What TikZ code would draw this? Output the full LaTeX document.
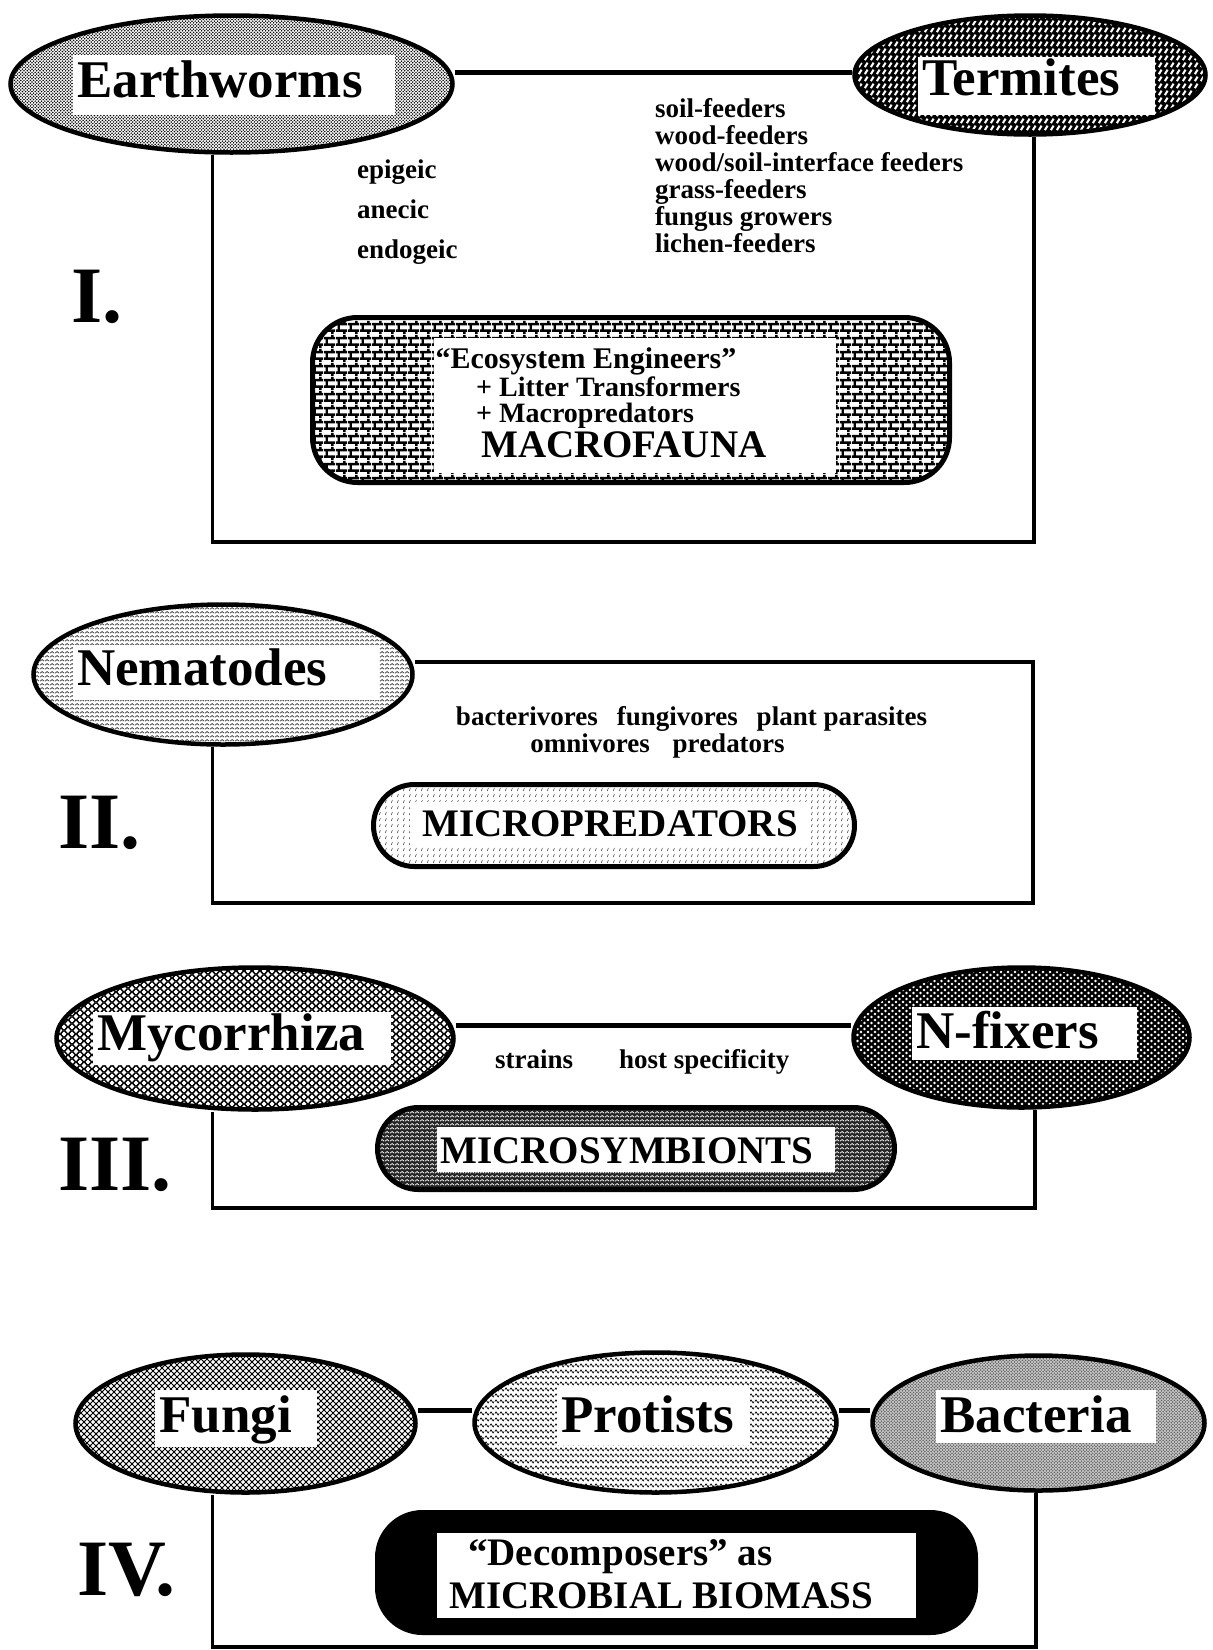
\documentclass[tikz,border=0pt]{standalone}
\usepackage{fontspec}
\setmainfont{Liberation Serif}
\usetikzlibrary{shapes.geometric,patterns}

\pgfdeclarepatternformonly{stip}{\pgfqpoint{-1pt}{-1pt}}{\pgfqpoint{2.6pt}{2.6pt}}{\pgfqpoint{3.2pt}{3.2pt}}{%
  \pgfpathcircle{\pgfpointorigin}{0.85pt}\pgfpathcircle{\pgfqpoint{1.6pt}{1.6pt}}{0.85pt}\pgfusepath{fill}}
\pgfdeclarepatternformonly{tslash}{\pgfqpoint{0pt}{0pt}}{\pgfqpoint{6pt}{7pt}}{\pgfqpoint{6pt}{7pt}}{%
  \pgfsetlinewidth{2.4pt}%
  \pgfpathmoveto{\pgfqpoint{1pt}{1pt}}\pgfpathlineto{\pgfqpoint{4.2pt}{6pt}}\pgfusepath{stroke}}
\pgfdeclarepatternformonly{tbrick}{\pgfqpoint{0pt}{0pt}}{\pgfqpoint{12pt}{14pt}}{\pgfqpoint{12pt}{14pt}}{%
  \pgfsetlinewidth{2.6pt}%
  \pgfpathmoveto{\pgfqpoint{0pt}{3.5pt}}\pgfpathlineto{\pgfqpoint{12pt}{3.5pt}}%
  \pgfpathmoveto{\pgfqpoint{0pt}{10.5pt}}\pgfpathlineto{\pgfqpoint{12pt}{10.5pt}}%
  \pgfpathmoveto{\pgfqpoint{3pt}{3.5pt}}\pgfpathlineto{\pgfqpoint{3pt}{10.5pt}}%
  \pgfpathmoveto{\pgfqpoint{9pt}{10.5pt}}\pgfpathlineto{\pgfqpoint{9pt}{14pt}}%
  \pgfpathmoveto{\pgfqpoint{9pt}{0pt}}\pgfpathlineto{\pgfqpoint{9pt}{3.5pt}}%
  \pgfusepath{stroke}}
\pgfdeclarepatternformonly{nwave}{\pgfqpoint{0pt}{0pt}}{\pgfqpoint{5pt}{4pt}}{\pgfqpoint{5pt}{4pt}}{%
  \pgfsetlinewidth{0.9pt}%
  \pgfpathmoveto{\pgfqpoint{0pt}{1pt}}\pgfpathlineto{\pgfqpoint{2.5pt}{3pt}}\pgfpathlineto{\pgfqpoint{5pt}{1pt}}%
  \pgfusepath{stroke}}
\pgfdeclarepatternformonly{ticks}{\pgfqpoint{0pt}{0pt}}{\pgfqpoint{6pt}{6pt}}{\pgfqpoint{6pt}{6pt}}{%
  \pgfsetlinewidth{0.6pt}%
  \pgfpathmoveto{\pgfqpoint{1.5pt}{1.2pt}}\pgfpathlineto{\pgfqpoint{2.8pt}{4.6pt}}\pgfusepath{stroke}}
\pgfdeclarepatternformonly{scales}{\pgfqpoint{-3.7pt}{-3.7pt}}{\pgfqpoint{7.7pt}{7.2pt}}{\pgfqpoint{8pt}{7pt}}{%
  \pgfsetlinewidth{1pt}%
  \pgfpathcircle{\pgfpointorigin}{3pt}\pgfpathcircle{\pgfqpoint{4pt}{3.5pt}}{3pt}\pgfusepath{stroke}}
\pgfdeclarepatternformonly{hexdots}{\pgfqpoint{-1.5pt}{-1.5pt}}{\pgfqpoint{5pt}{4.5pt}}{\pgfqpoint{7pt}{6pt}}{%
  \pgfpathcircle{\pgfpointorigin}{1.3pt}\pgfpathcircle{\pgfqpoint{3.5pt}{3pt}}{1.3pt}\pgfusepath{fill}}
\pgfdeclarepatternformonly{dmesh}{\pgfqpoint{-1pt}{-1pt}}{\pgfqpoint{7pt}{7pt}}{\pgfqpoint{6pt}{6pt}}{%
  \pgfsetlinewidth{0.8pt}%
  \pgfpathmoveto{\pgfqpoint{-1pt}{-1pt}}\pgfpathlineto{\pgfqpoint{7pt}{7pt}}%
  \pgfpathmoveto{\pgfqpoint{-1pt}{7pt}}\pgfpathlineto{\pgfqpoint{7pt}{-1pt}}\pgfusepath{stroke}}
\pgfdeclarepatternformonly{pwave}{\pgfqpoint{0pt}{0pt}}{\pgfqpoint{5pt}{6pt}}{\pgfqpoint{5pt}{6pt}}{%
  \pgfsetlinewidth{0.8pt}%
  \pgfpathmoveto{\pgfqpoint{0pt}{3pt}}%
  \pgfpathcurveto{\pgfqpoint{0.8pt}{5.4pt}}{\pgfqpoint{1.7pt}{5.4pt}}{\pgfqpoint{2.5pt}{3pt}}%
  \pgfpathcurveto{\pgfqpoint{3.3pt}{0.6pt}}{\pgfqpoint{4.2pt}{0.6pt}}{\pgfqpoint{5pt}{3pt}}%
  \pgfusepath{stroke}}

\begin{document}
\begin{tikzpicture}[x=1pt, y=-1pt,
  blob/.style={ellipse, draw, line width=4.5pt, inner sep=0pt},
  pill/.style={draw, line width=5pt, inner sep=0pt},
  pane/.style={fill=white, inner sep=0pt},
  tag/.style={fill=white, inner xsep=4pt, inner ysep=0pt, anchor=base west,
              align=left, font=\fontsize{53}{53}\selectfont\bfseries},
  num/.style={inner sep=0pt, anchor=base west, font=\fontsize{80}{80}\selectfont\bfseries},
  note/.style={inner sep=0pt, anchor=base west, font=\fontsize{27}{27}\selectfont\bfseries},
  lead/.style={inner sep=0pt, anchor=base west, font=\fontsize{28}{28}\selectfont\bfseries},
  bigtxt/.style={inner sep=0pt, anchor=base west, font=\fontsize{39}{39}\selectfont\bfseries},
  rim/.style={line width=3.5pt},
  bond/.style={line width=5pt}
]
  \useasboundingbox (0,0) rectangle (1213,1650);

  \node[blob, minimum width=442pt, minimum height=137pt, preaction={fill=white},
        pattern=stip] (earth) at (231.5,84) {};
  \node[blob, minimum width=351pt, minimum height=119pt, preaction={fill=black},
        pattern=tslash, pattern color=white] (termi) at (1030,75) {};
  \node[tag, text width=314pt, text height=42pt, text depth=18pt] (earthT) at (73,97) {Earthworms};
  \node[tag, text width=229pt, text height=38pt, text depth=20pt] (termiT) at (918,95) {Termites};
  \coordinate (t1) at (600,72);
  \coordinate (c1a) at (212.5,542);
  \coordinate (c1b) at (1034,542);
  \draw[bond] (earth.east |- t1) -- (termi.west |- t1);
  \draw[rim] (earth.south -| c1a) -- (c1a) -- (c1b) -- (termi.south -| c1b);
  \foreach \w [count=\i from 0] in {epigeic, anecic, endogeic}
    \node[note] (ew\i) at (357,178+40*\i) {\w};
  \foreach \w [count=\i from 0] in {soil-feeders, wood-feeders, wood/soil-interface feeders,
                                    grass-feeders, fungus growers, lichen-feeders}
    \node[note] (tf\i) at (655,117+27*\i) {\w};
  \node[pill, rounded corners=45pt, minimum width=637pt, minimum height=165pt,
        preaction={fill=white}, pattern=tbrick] (macro) at (631,400) {};
  \node[pane, minimum width=402pt, minimum height=135pt] (macroP) at (635,405.5) {};
  \node[lead, anchor=base, font=\fontsize{30}{30}\selectfont\bfseries] (eng) at (586,368)
    {``Ecosystem Engineers''};
  \node[lead] (lit) at (476,396) {+ Litter Transformers};
  \node[lead] (mpr) at (476,422) {+ Macropredators};
  \node[bigtxt] (macroT) at (481,457) {MACROFAUNA};
  \node[num] (n1) at (71,322) {I.};

  \node[blob, minimum width=379pt, minimum height=140pt, preaction={fill=white},
        pattern=nwave, pattern color=black!75] (nema) at (223,674.5) {};
  \node[tag, text width=298pt, text height=40pt, text depth=15pt] (nemaT) at (73,685) {Nematodes};
  \coordinate (t2) at (700,662);
  \coordinate (c2a) at (212.5,903);
  \coordinate (c2b) at (1033,903);
  \draw[rim] (nema.east |- t2) -| (c2b) -- (c2a) -- (nema.south -| c2a);
  \node[note, anchor=base] (nn1) at (691.5,725)
    {bacterivores\hspace{0.7em}fungivores\hspace{0.7em}plant parasites};
  \node[note, anchor=base] (nn2) at (657.5,752) {omnivores\hspace{0.85em}predators};
  \node[pill, rounded corners=41pt, minimum width=481pt, minimum height=82pt,
        preaction={fill=white}, pattern=ticks, pattern color=black!80] (mpred) at (614,825.5) {};
  \node[pane, minimum width=398pt, minimum height=45pt] (mpredP) at (609,824.5) {};
  \node[bigtxt, anchor=base] (mpredT) at (610,836) {MICROPREDATORS};
  \node[num] (n2) at (58,848) {II.};

  \node[blob, minimum width=397pt, minimum height=142pt, preaction={fill=white},
        pattern=scales] (myco) at (255,1038.5) {};
  \node[blob, minimum width=336pt, minimum height=140pt, preaction={fill=black},
        pattern=hexdots, pattern color=white] (nfix) at (1021.5,1037.5) {};
  \node[tag, text width=290pt, text height=38pt, text depth=15pt] (mycoT) at (93,1050) {Mycorrhiza};
  \node[tag, text width=217pt, text height=41pt, text depth=12pt] (nfixT) at (912,1048) {N-fixers};
  \coordinate (t3) at (650,1025);
  \coordinate (c3a) at (212.5,1208);
  \coordinate (c3b) at (1035,1208);
  \draw[bond] (myco.east |- t3) -- (nfix.west |- t3);
  \draw[rim] (myco.south -| c3a) -- (c3a) -- (c3b) -- (nfix.south -| c3b);
  \node[note] (st) at (495,1068) {strains};
  \node[note] (hs) at (619,1068) {host specificity};
  \node[pill, rounded corners=41pt, minimum width=517pt, minimum height=82pt,
        preaction={fill=black!85}, pattern=nwave, pattern color=white] (msym) at (636,1148.5) {};
  \node[pane, minimum width=398pt, minimum height=45pt] (msymP) at (636,1149.5) {};
  \node[bigtxt, anchor=base] (msymT) at (627,1163) {MICROSYMBIONTS};
  \node[num] (n3) at (58,1190) {III.};

  \node[blob, minimum width=340pt, minimum height=138pt, preaction={fill=white},
        pattern=dmesh] (fungi) at (245.5,1423.5) {};
  \node[blob, minimum width=362pt, minimum height=140pt, preaction={fill=white},
        pattern=pwave] (prot) at (655.5,1422.5) {};
  \node[blob, minimum width=332pt, minimum height=135pt, preaction={fill=black!20},
        pattern=stip, pattern color=black!65] (bact) at (1038.5,1423) {};
  \node[tag, text width=154pt, text height=42pt, text depth=15pt] (fungiT) at (155,1432) {Fungi};
  \node[tag, text width=185pt, text height=45pt, text depth=13pt] (protT) at (557,1432) {Protists};
  \node[tag, text width=212pt, text height=42pt, text depth=11pt] (bactT) at (936,1432) {Bacteria};
  \coordinate (t4) at (650,1410);
  \coordinate (c4a) at (212.5,1647);
  \coordinate (c4b) at (1036,1647);
  \draw[bond] (fungi.east |- t4) -- (prot.west |- t4);
  \draw[bond] (prot.east |- t4) -- (bact.west |- t4);
  \draw[rim] (fungi.south -| c4a) -- (c4a) -- (c4b) -- (bact.south -| c4b);
  \node[pill, rounded corners=45pt, fill=black, minimum width=598pt, minimum height=120pt]
    (decomp) at (676.5,1572.5) {};
  \node[pane, minimum width=479pt, minimum height=85pt] (decompP) at (676.5,1575.5) {};
  \node[bigtxt] (dec) at (468,1565) {``Decomposers'' as};
  \node[bigtxt] (mbio) at (449,1608) {MICROBIAL BIOMASS};
  \node[num] (n4) at (77,1595) {IV.};

\end{tikzpicture}
\end{document}
